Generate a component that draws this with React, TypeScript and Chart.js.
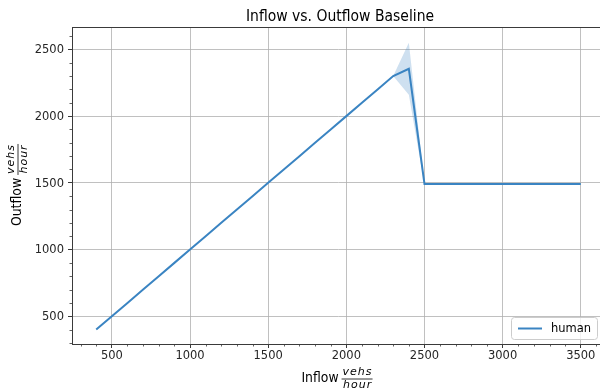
import React, { useEffect, useRef } from "react";
import { Chart, registerables } from "chart.js";

Chart.register(...registerables);

const inflow = [400, 500, 600, 700, 800, 900, 1000, 1100, 1200, 1300, 1400, 1500, 1600, 1700, 1800, 1900, 2000, 2100, 2200, 2300, 2400, 2500, 2600, 2700, 2800, 2900, 3000, 3100, 3200, 3300, 3400, 3500];
const outflow = [400, 500, 600, 700, 800, 900, 1000, 1100, 1200, 1300, 1400, 1500, 1600, 1700, 1800, 1900, 2000, 2100, 2200, 2300, 2355, 1492, 1492, 1492, 1492, 1492, 1492, 1492, 1492, 1491, 1492, 1492];
const outflowUpper = [400, 500, 600, 700, 800, 900, 1000, 1100, 1200, 1300, 1400, 1500, 1600, 1700, 1800, 1900, 2000, 2100, 2200, 2300, 2550, 1496, 1492, 1492, 1492, 1492, 1492, 1492, 1492, 1491, 1492, 1492];
const outflowLower = [400, 500, 600, 700, 800, 900, 1000, 1100, 1200, 1300, 1400, 1500, 1600, 1700, 1800, 1900, 2000, 2100, 2200, 2300, 2160, 1488, 1492, 1492, 1492, 1492, 1492, 1492, 1492, 1491, 1492, 1492];
const xTicks = [500, 1000, 1500, 2000, 2500, 3000, 3500];
const yTicks = [500, 1000, 1500, 2000, 2500];
const seriesName = "human";
const titleText = "Inflow vs. Outflow Baseline";
const xLabel = "Inflow";
const yLabel = "Outflow";
const fracTop = "vehs";
const fracBottom = "hour";

const LINE = "#3a84c2";
const BAND = "rgba(58,132,194,0.25)";
const FONT = "DejaVu Sans";
const SPINE = "#3a3a3a";
const SQ = 0.92;

function textW(ctx: CanvasRenderingContext2D, t: string, font: string, sx: number) {
  ctx.font = font;
  return ctx.measureText(t).width * sx;
}

function drawText(
  ctx: CanvasRenderingContext2D,
  t: string,
  x: number,
  y: number,
  font: string,
  sx: number,
  align: CanvasTextAlign,
  spacing = "0px"
) {
  ctx.save();
  ctx.translate(x, y);
  ctx.scale(sx, 1);
  ctx.font = font;
  (ctx as any).letterSpacing = spacing;
  ctx.textAlign = align;
  ctx.textBaseline = "middle";
  ctx.fillText(t, 0, 0);
  ctx.restore();
}

function drawLabelWithFrac(ctx: CanvasRenderingContext2D, cx: number, cy: number, label: string) {
  const lf = `13.5px '${FONT}'`;
  const ff = `italic 11px '${FONT}'`;
  const lw = textW(ctx, label, lf, SQ) + 3;
  ctx.save();
  ctx.font = ff;
  (ctx as any).letterSpacing = "1px";
  const fw = Math.max(ctx.measureText(fracTop).width, ctx.measureText(fracBottom).width) + 1;
  ctx.restore();
  const total = lw + fw;
  const x0 = cx - total / 2;
  ctx.fillStyle = "#000";
  drawText(ctx, label, x0, cy, lf, SQ, "left");
  const fx = x0 + lw + fw / 2;
  drawText(ctx, fracTop, fx + 0.5, cy - 5.5, ff, 1, "center", "1px");
  drawText(ctx, fracBottom, fx + 0.5, cy + 7, ff, 1, "center", "1px");
  ctx.strokeStyle = "#000";
  ctx.lineWidth = 0.8;
  ctx.beginPath();
  ctx.moveTo(x0 + lw, cy + 1);
  ctx.lineTo(x0 + lw + fw, cy + 1);
  ctx.stroke();
}

const decorPlugin = {
  id: "decor",
  afterDraw(chart: any) {
    const ctx: CanvasRenderingContext2D = chart.ctx;
    const { left, right, top, bottom } = chart.chartArea;
    const xs = chart.scales.x;
    const ys = chart.scales.y;
    ctx.save();
    // frame
    ctx.strokeStyle = SPINE;
    ctx.lineWidth = 1;
    ctx.strokeRect(left + 0.5, top + 0.5, right - left - 1, bottom - top);
    // minor ticks
    ctx.lineWidth = 0.8;
    ctx.beginPath();
    for (let v = 300; v <= 3600; v += 100) {
      if (v % 500 === 0) continue;
      const px = Math.round(xs.getPixelForValue(v)) + 0.5;
      if (px < left || px > right) continue;
      ctx.moveTo(px, bottom);
      ctx.lineTo(px, bottom + 2.5);
    }
    for (let v = 300; v <= 2600; v += 100) {
      if (v % 500 === 0) continue;
      const py = Math.round(ys.getPixelForValue(v)) + 0.5;
      if (py < top || py > bottom) continue;
      ctx.moveTo(left, py);
      ctx.lineTo(left - 2.5, py);
    }
    ctx.stroke();
    // tick labels
    const tf = `12.5px '${FONT}'`;
    ctx.fillStyle = "#262626";
    xTicks.forEach((v) => drawText(ctx, String(v), xs.getPixelForValue(v), 356, tf, SQ, "center"));
    yTicks.forEach((v) => drawText(ctx, String(v), 64, ys.getPixelForValue(v) + 0.5, tf, SQ, "right"));
    // title
    ctx.fillStyle = "#000";
    drawText(ctx, titleText, 340, 17, `15px '${FONT}'`, 0.93, "center");
    // x label
    drawLabelWithFrac(ctx, 337, 378, xLabel);
    // y label
    ctx.save();
    ctx.translate(17, 185);
    ctx.rotate(-Math.PI / 2);
    drawLabelWithFrac(ctx, 0, 0, yLabel);
    ctx.restore();
    // legend
    const bx = 511, by = 317, bw = 86, bh = 22;
    ctx.fillStyle = "rgba(255,255,255,0.8)";
    ctx.strokeStyle = "#cccccc";
    ctx.lineWidth = 1;
    ctx.beginPath();
    (ctx as any).roundRect(bx + 0.5, by + 0.5, bw, bh, 3);
    ctx.fill();
    ctx.stroke();
    ctx.strokeStyle = LINE;
    ctx.lineWidth = 2;
    ctx.beginPath();
    ctx.moveTo(518, by + 11.5);
    ctx.lineTo(542, by + 11.5);
    ctx.stroke();
    ctx.fillStyle = "#000";
    drawText(ctx, seriesName, 551, by + 12, `12.5px '${FONT}'`, SQ, "left");
    ctx.restore();
  },
};

export default function App() {
  const ref = useRef<HTMLCanvasElement>(null);
  useEffect(() => {
    const pts = (ys: number[]) => inflow.map((x, i) => ({ x, y: ys[i] }));
    const chart = new Chart(ref.current!, {
      type: "line",
      data: {
        datasets: [
          {
            label: "upper",
            data: pts(outflowUpper),
            borderWidth: 0,
            pointRadius: 0,
            backgroundColor: BAND,
            fill: "+1",
            order: 2,
          },
          {
            label: "lower",
            data: pts(outflowLower),
            borderWidth: 0,
            pointRadius: 0,
            fill: false,
            order: 2,
          },
          {
            label: seriesName,
            data: pts(outflow),
            borderColor: LINE,
            borderWidth: 2,
            pointRadius: 0,
            fill: false,
            order: 1,
          },
        ],
      },
      options: {
        animation: false,
        responsive: false,
        maintainAspectRatio: false,
        layout: { padding: { top: 27, right: 0, left: 0, bottom: 0 } },
        plugins: { legend: { display: false }, tooltip: { enabled: false } },
        scales: {
          x: {
            type: "linear",
            min: 245,
            max: 3655,
            afterBuildTicks: (s: any) => {
              s.ticks = xTicks.map((v) => ({ value: v }));
            },
            afterFit: (s: any) => {
              s.height = 45;
            },
            ticks: {
              color: "rgba(0,0,0,0)",
              font: { family: FONT, size: 11.5 },
              padding: 3,
              maxRotation: 0,
              callback: (v: any) => String(v),
            },
            grid: { color: "#b0b0b0", lineWidth: 0.8, tickLength: 4, tickColor: SPINE, tickWidth: 1 },
            border: { display: false },
          },
          y: {
            type: "linear",
            min: 292,
            max: 2668,
            afterBuildTicks: (s: any) => {
              s.ticks = yTicks.map((v) => ({ value: v }));
            },
            afterFit: (s: any) => {
              s.width = 72;
            },
            ticks: {
              color: "rgba(0,0,0,0)",
              font: { family: FONT, size: 11.5 },
              padding: 4,
              callback: (v: any) => String(v),
            },
            grid: { color: "#b0b0b0", lineWidth: 0.8, tickLength: 4, tickColor: SPINE, tickWidth: 1 },
            border: { display: false },
          },
        },
      },
      plugins: [decorPlugin],
    });
    return () => chart.destroy();
  }, []);
  return (
    <div style={{ position: "fixed", left: 0, top: 0, width: 600, height: 389, overflow: "hidden", background: "#fff" }}>
      <canvas ref={ref} width={605} height={389} style={{ display: "block" }} />
    </div>
  );
}
